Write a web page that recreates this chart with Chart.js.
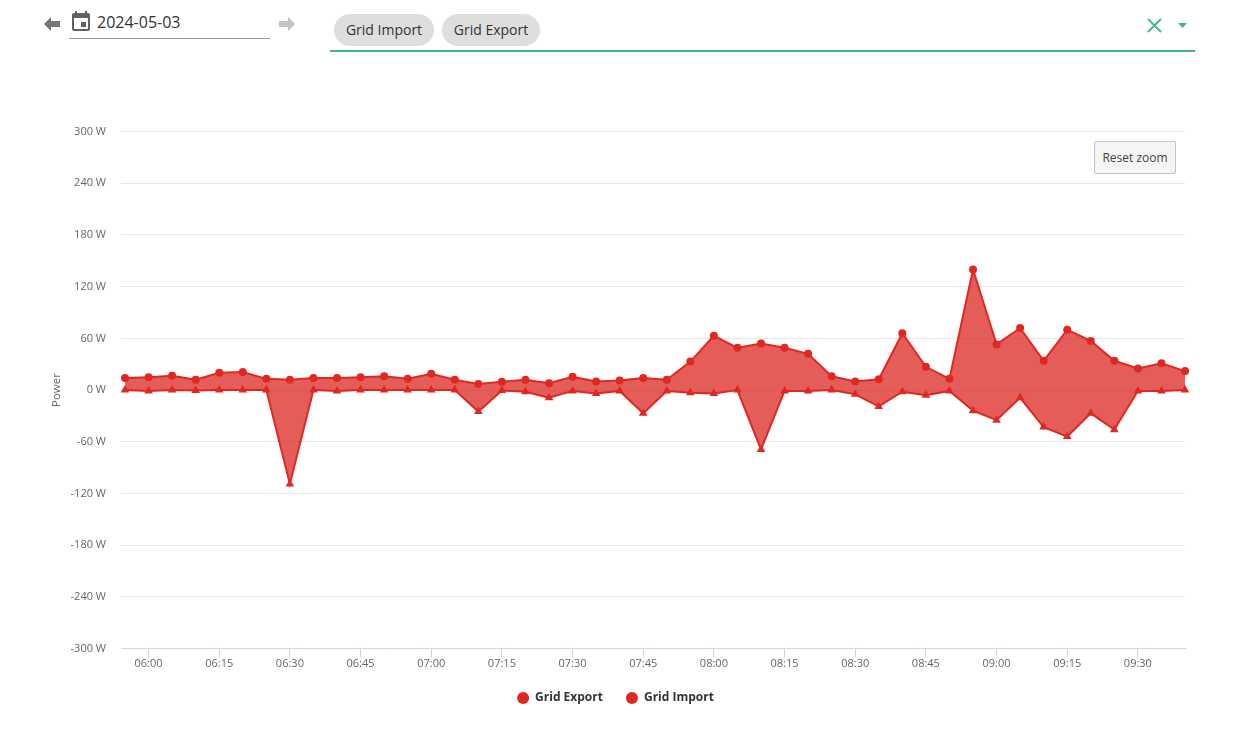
<!DOCTYPE html>
<html>
<head>
<meta charset="utf-8">
<title>Grid power</title>
<script src="https://cdn.jsdelivr.net/npm/chart.js"></script>
<style>
    html, body { margin: 0; padding: 0; background: #fff; }
    body { width: 1248px; height: 730px; position: relative; overflow: hidden; font-family: "Open Sans", sans-serif; color: #333; }
    .abs { position: absolute; }
    #dateText { left: 97px; top: 11px; font-size: 16px; line-height: 22px; color: #333; }
    #dateLine { left: 69px; top: 38px; width: 201px; height: 1px; background: #999; }
    .chip { top: 14px; height: 32px; line-height: 32px; border-radius: 16px; background: #dedede; font-size: 14px; text-align: center; color: #333; }
    #selectLine { left: 330px; top: 50px; width: 865px; height: 2px; background: #3fb298; }
    #resetZoom { left: 1094px; top: 141px; width: 80px; height: 31px; line-height: 31px; border: 1px solid #c4c4c4; border-radius: 2px; background: #f5f5f5; font-size: 12px; text-align: center; color: #444; }
    #chartBox { left: 40px; top: 110px; width: 1152px; height: 608px; }
</style>
</head>
<body>
<svg class="abs" style="left:42px;top:14px" width="20" height="20" viewBox="0 0 20 20"><path d="M2 10 L9 3 V7 H18 V13 H9 V17 Z" fill="#757575"/></svg>
<svg class="abs" style="left:69px;top:10px" width="24" height="24" viewBox="0 0 24 24"><path fill="#616161" d="M19 3h-1V1h-2v2H8V1H6v2H5c-1.1 0-2 .9-2 2v14c0 1.1.9 2 2 2h14c1.1 0 2-.9 2-2V5c0-1.100-.9-2-2-2zm0 16H5V8h14v11zM12 12h5v5h-5z"/></svg>
<div class="abs" id="dateText">2024-05-03</div>
<div class="abs" id="dateLine"></div>
<svg class="abs" style="left:277px;top:14px" width="20" height="20" viewBox="0 0 20 20"><path d="M18 10 L11 3 V7 H2 V13 H11 V17 Z" fill="#c4c4c4"/></svg>
<div class="abs chip" style="left:334px;width:100px">Grid Import</div>
<div class="abs chip" style="left:442px;width:98px">Grid Export</div>
<svg class="abs" style="left:1146px;top:17px" width="17" height="17" viewBox="0 0 17 17"><path d="M2 2 L15 15 M15 2 L2 15" stroke="#3fb298" stroke-width="1.800" fill="none"/></svg>
<svg class="abs" style="left:1177px;top:22px" width="11" height="7" viewBox="0 0 11 7"><path d="M1 1 H10 L5.500 6 Z" fill="#3fb298"/></svg>
<div class="abs" id="selectLine"></div>

<div class="abs" id="chartBox"><canvas id="powerChart"></canvas></div>
<div class="abs" id="resetZoom">Reset zoom</div>

<script>
// Sample times, 5 minute steps
const times = [
    '05:55', '06:00', '06:05', '06:10', '06:15', '06:20', '06:25', '06:30', '06:35', '06:40',
    '06:45', '06:50', '06:55', '07:00', '07:05', '07:10', '07:15', '07:20', '07:25', '07:30',
    '07:35', '07:40', '07:45', '07:50', '07:55', '08:00', '08:05', '08:10', '08:15', '08:20',
    '08:25', '08:30', '08:35', '08:40', '08:45', '08:50', '08:55', '09:00', '09:05', '09:10',
    '09:15', '09:20', '09:25', '09:30', '09:35', '09:40'
];

// Watts
const gridExport = [
    14, 15, 16.5, 12, 20, 21, 13, 12, 14, 14,
    15, 16, 13, 19, 12, 7, 9.5, 12, 8, 15.5,
    10, 11, 14, 12, 33, 63, 49, 54, 49, 42,
    16, 10, 12.5, 66, 27, 13, 140, 53, 72, 34,
    70, 57, 34, 25, 31, 22
];
const gridImport = [
    0, -1, 0, -0.5, 0, 0, 0, -109, 0, -1,
    0, 0, 0, 0, 0, -25, -0.5, -2, -9, -1,
    -4, -1, -27, -1, -3, -4, 0, -69, -1, -1,
    0, -5, -19, -2, -6, -1, -24, -35, -9, -43,
    -54, -27, -46, -1, -1, 0
];

const RED = '#e02822';
const RED_FILL = 'rgba(220, 36, 30, 0.74)';
const FONT = '"Open Sans", sans-serif';

const toMinutes = (t) => {
    const parts = t.split(':');
    return parseInt(parts[0]) * 60 + parseInt(parts[1]);
};
const toLabel = (m) => {
    const h = Math.floor(m / 60);
    const min = m % 60;
    return String(h).padStart(2, '0') + ':' + String(min).padStart(2, '0');
};
const toPoints = (values) => values.map((v, i) => ({ x: toMinutes(times[i]), y: v }));

new Chart(document.getElementById('powerChart'), {
    type: 'line',
    data: {
        datasets: [
            {
                label: 'Grid Export',
                data: toPoints(gridExport),
                borderColor: RED,
                backgroundColor: RED,
                borderWidth: 2,
                pointRadius: 4,
                pointBackgroundColor: RED,
                pointBorderWidth: 0,
                fill: { target: 'origin', above: RED_FILL, below: RED_FILL },
                clip: false,
                tension: 0
            },
            {
                label: 'Grid Import',
                data: toPoints(gridImport),
                borderColor: RED,
                backgroundColor: RED,
                borderWidth: 2,
                pointStyle: 'triangle',
                pointRadius: 5,
                pointBackgroundColor: RED,
                pointBorderWidth: 0,
                fill: { target: 'origin', above: RED_FILL, below: RED_FILL },
                clip: false,
                tension: 0
            }
        ]
    },
    options: {
        responsive: true,
        maintainAspectRatio: false,
        animation: false,
        layout: { padding: { top: 18.5, right: 7, bottom: 4, left: 6 } },
        scales: {
            x: {
                type: 'linear',
                min: 354.15,
                max: 580,
                grid: { drawOnChartArea: false, drawTicks: true, tickLength: 9, color: '#ccd6eb' },
                border: { color: '#ccd6eb' },
                afterFit: (scale) => { scale.height = 20.5; },
                ticks: {
                    stepSize: 15,
                    includeBounds: false,
                    autoSkip: false,
                    maxRotation: 0,
                    padding: 0,
                    color: '#666',
                    font: { family: FONT, size: 11 },
                    callback: (value) => toLabel(value)
                }
            },
            y: {
                min: -300,
                max: 300,
                grid: { color: '#e6e6e6', drawTicks: false },
                border: { display: false },
                afterFit: (scale) => { scale.width = 75; },
                title: {
                    display: true,
                    text: 'Power',
                    color: '#666',
                    padding: { top: 3.5, bottom: 0 },
                    font: { family: FONT, size: 11.5 }
                },
                ticks: {
                    stepSize: 60,
                    padding: 15,
                    color: '#666',
                    font: { family: FONT, size: 11 },
                    callback: (value) => value + ' W'
                }
            }
        },
        plugins: {
            tooltip: { enabled: false },
            legend: {
                position: 'bottom',
                labels: {
                    usePointStyle: true,
                    boxHeight: 8.5,
                    padding: 23,
                    color: '#333',
                    font: { family: FONT, size: 12, weight: 'bold' },
                    generateLabels: (chart) => chart.data.datasets.map((d, i) => ({
                        text: d.label,
                        datasetIndex: i,
                        fillStyle: RED,
                        strokeStyle: RED,
                        lineWidth: 0,
                        pointStyle: 'circle',
                        fontColor: '#333'
                    }))
                }
            }
        }
    }
});
</script>
</body>
</html>
